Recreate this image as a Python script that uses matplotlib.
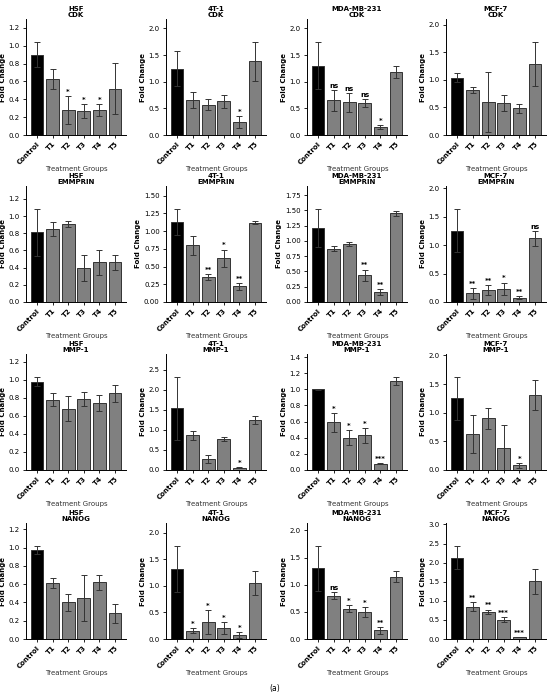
import matplotlib
matplotlib.use("Agg")
import matplotlib.pyplot as plt
from matplotlib.ticker import MaxNLocator
import numpy as np

cells = ['HSF', '4T-1', 'MDA-MB-231', 'MCF-7']
genes = ['CDK', 'EMMPRIN', 'MMP-1', 'NANOG']
groups = ['Control', 'T1', 'T2', 'T3', 'T4', 'T5']

# rows = cell lines (HSF, 4T-1, MDA-MB-231, MCF-7)
cdk_mean = [[0.90, 0.63, 0.28, 0.27, 0.28, 0.52],
            [1.24, 0.66, 0.57, 0.63, 0.25, 1.38],
            [1.30, 0.65, 0.61, 0.60, 0.15, 1.18],
            [1.04, 0.81, 0.60, 0.58, 0.48, 1.28]]
cdk_err = [[0.14, 0.11, 0.16, 0.08, 0.065, 0.29],
           [0.33, 0.15, 0.11, 0.12, 0.11, 0.36],
           [0.44, 0.20, 0.17, 0.08, 0.035, 0.11],
           [0.08, 0.05, 0.54, 0.15, 0.075, 0.40]]
cdk_sig = [['', '', '*', '*', '*', ''],
           ['', '', '', '', '*', ''],
           ['', 'ns', 'ns', 'ns', '*', ''],
           ['', '', '', '', '', '']]

emmprin_mean = [[0.81, 0.85, 0.91, 0.40, 0.46, 0.46],
                [1.13, 0.80, 0.35, 0.62, 0.22, 1.12],
                [1.21, 0.87, 0.95, 0.44, 0.16, 1.45],
                [1.25, 0.15, 0.21, 0.23, 0.075, 1.12]]
emmprin_err = [[0.27, 0.08, 0.035, 0.15, 0.14, 0.09],
               [0.18, 0.13, 0.04, 0.12, 0.05, 0.02],
               [0.31, 0.04, 0.035, 0.09, 0.05, 0.045],
               [0.38, 0.10, 0.09, 0.11, 0.03, 0.13]]
emmprin_sig = [['', '', '', '', '', ''],
               ['', '', '**', '*', '**', ''],
               ['', '', '', '**', '**', ''],
               ['', '**', '**', '*', '**', 'ns']]

mmp1_mean = [[0.98, 0.78, 0.68, 0.79, 0.74, 0.85],
             [1.54, 0.87, 0.27, 0.77, 0.06, 1.25],
             [1.00, 0.59, 0.40, 0.43, 0.08, 1.10],
             [1.25, 0.63, 0.90, 0.39, 0.08, 1.31]]
mmp1_err = [[0.05, 0.07, 0.14, 0.08, 0.09, 0.09],
            [0.78, 0.11, 0.10, 0.05, 0.015, 0.09],
            [0.005, 0.12, 0.09, 0.09, 0.008, 0.05],
            [0.37, 0.33, 0.19, 0.40, 0.04, 0.26]]
mmp1_sig = [['', '', '', '', '', ''],
            ['', '', '', '', '*', ''],
            ['', '*', '*', '*', '***', ''],
            ['', '', '', '', '*', '']]

nanog_mean = [[0.97, 0.61, 0.40, 0.45, 0.62, 0.28],
              [1.32, 0.16, 0.32, 0.21, 0.07, 1.05],
              [1.30, 0.80, 0.56, 0.50, 0.16, 1.15],
              [2.13, 0.85, 0.71, 0.51, 0.05, 1.51]]
nanog_err = [[0.045, 0.055, 0.09, 0.25, 0.08, 0.10],
             [0.43, 0.05, 0.23, 0.11, 0.06, 0.225],
             [0.41, 0.06, 0.065, 0.095, 0.065, 0.10],
             [0.30, 0.12, 0.06, 0.06, 0.008, 0.33]]
nanog_sig = [['', '', '', '', '', ''],
             ['', '*', '*', '*', '*', ''],
             ['', 'ns', '*', '*', '**', ''],
             ['', '**', '**', '***', '***', '']]

means = [cdk_mean, emmprin_mean, mmp1_mean, nanog_mean]
errs = [cdk_err, emmprin_err, mmp1_err, nanog_err]
sigs = [cdk_sig, emmprin_sig, mmp1_sig, nanog_sig]

fs = 5
fig = plt.figure(figsize=(5.5, 6.98), dpi=100)
W, H = 550.0, 698.0
lefts = [26, 166, 307, 446]
bottoms = [135, 302, 470, 639]
aw, ah = 100, 116

colors = ['black'] + ['#808080'] * 5
x = np.arange(len(groups))

for r, gene in enumerate(genes):
    for c, cell in enumerate(cells):
        ax = fig.add_axes([lefts[c] / W, (H - bottoms[r]) / H, aw / W, ah / H])
        m = np.array(means[r][c])
        e = np.array(errs[r][c])
        ax.bar(x, m, width=0.82, color=colors, edgecolor='#333333', linewidth=0.7,
               yerr=e, capsize=2.2, error_kw=dict(ecolor='#333333', elinewidth=0.7, capthick=0.7))
        top = (m + e).max() * 1.25
        ax.set_ylim(0, top)
        ax.yaxis.set_major_locator(MaxNLocator(nbins=8, steps=[1, 2, 2.5, 5, 10]))
        for i, s in enumerate(sigs[r][c]):
            if s:
                ax.text(x[i], m[i] + e[i] + 0.01 * top, s, ha='center', va='bottom',
                        fontsize=fs, fontweight='bold')
        ax.set_xticks(x)
        ax.set_xticklabels(groups, rotation=45, ha='right', fontweight='bold', fontsize=fs,
                           rotation_mode='anchor')
        ax.tick_params(axis='y', labelsize=fs, length=2.5, width=0.6, pad=2)
        ax.tick_params(axis='x', length=2.5, width=0.6, pad=1.5)
        ax.spines['top'].set_visible(False)
        ax.spines['right'].set_visible(False)
        for sp in ['left', 'bottom']:
            ax.spines[sp].set_linewidth(0.7)
        ax.set_title(cell + '\n' + gene, fontsize=fs, fontweight='bold', pad=1.5, linespacing=1.0)
        ax.set_ylabel('Fold Change', fontsize=fs, fontweight='bold', labelpad=2)
        ax.set_xlabel('Treatment Groups', fontsize=fs, color='#333333', labelpad=0.5)

fig.text(0.5, 1 - 688 / H, '(a)', ha='center', va='center', fontsize=5.5)
plt.savefig('out.png', dpi=100)
